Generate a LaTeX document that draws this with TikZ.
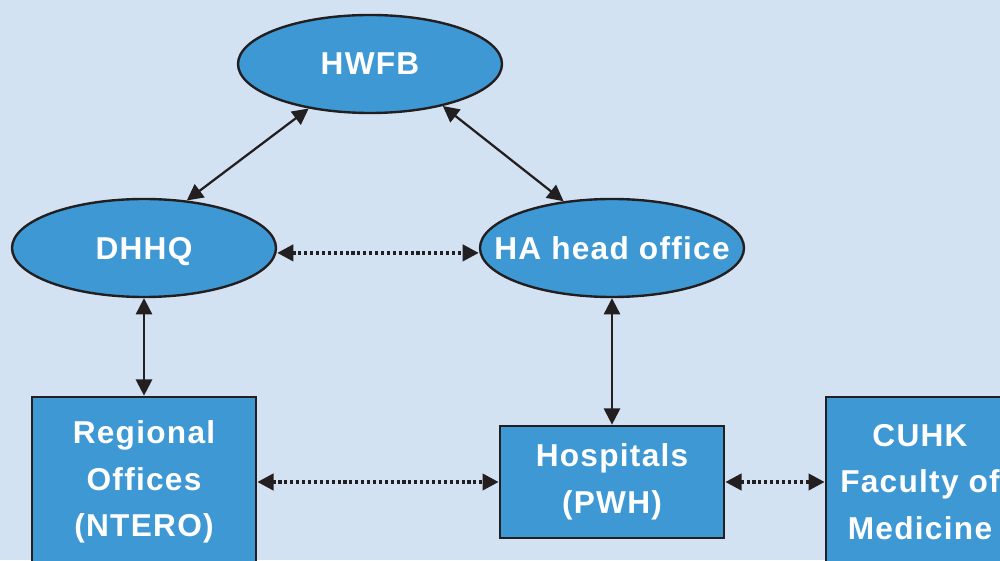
\documentclass[tikz,border=0pt]{standalone}
\usepackage{fontspec}
\setmainfont{Liberation Sans}[LetterSpace=4]
\usetikzlibrary{shapes.geometric, arrows.meta}
\definecolor{bgblue}{RGB}{211,226,242}
\definecolor{nodeblue}{RGB}{61,152,212}
\definecolor{edgeblack}{RGB}{35,31,32}
\tikzstyle{office} = [ellipse, minimum width=6.6cm, minimum height=2.45cm, inner sep=0pt, text depth=0pt, text centered, draw=edgeblack, line width=1.7pt, fill=nodeblue, text=white, font=\bfseries\fontsize{22.5}{33}\selectfont]
\tikzstyle{unit} = [rectangle, minimum width=5.6cm, minimum height=4.25cm, align=center, draw=edgeblack, line width=1.9pt, fill=nodeblue, text=white, font=\bfseries\fontsize{22.5}{33}\selectfont]
\tikzstyle{link} = [line width=1.6pt, draw=edgeblack, {Triangle[length=11.5pt,width=11.5pt]}-{Triangle[length=11.5pt,width=11.5pt]}]
\tikzstyle{dotlink} = [link, line width=2.6pt, dash pattern=on 2.2pt off 2pt]

\begin{document}
\begin{tikzpicture}[node distance=4.6cm]
        % Background
        \fill [bgblue] (0,0) rectangle (25,14);
        \useasboundingbox (0,0) rectangle (25,14);

        % Nodes
        \node (hwfb) [office] at (9.25,12.4) {\makebox[0pt]{HWFB}};
        \node (dhhq) [office, below of=hwfb, xshift=-5.65cm] {\makebox[0pt]{DHHQ}};
        \node (haoffice) [office, right of=dhhq, xshift=7.1cm] {\makebox[0pt]{HA head office}};
        \node (regional) [unit, below of=dhhq, yshift=-1.25cm] {Regional\\Offices\\(NTERO)};
        \node (hospitals) [unit, below of=haoffice, yshift=-1.25cm, minimum height=2.8cm] {Hospitals\\(PWH)};
        \node (cuhk) [unit, right of=hospitals, xshift=3.1cm, minimum width=4.7cm] {CUHK\\Faculty of\\Medicine};

        % Arrows
        \draw [link] (hwfb.216) -- (dhhq.48);
        \draw [link] (hwfb.330) -- (haoffice.136);
        \draw [dotlink] ([yshift=-3.5pt]dhhq.east) -- ([yshift=-3.5pt]haoffice.west);
        \draw [link] (dhhq.south) -- (regional.north);
        \draw [link] (haoffice.south) -- (hospitals.north);
        \draw [dotlink] (regional.east) -- (hospitals.west);
        \draw [dotlink] (hospitals.east) -- (cuhk.west);
\end{tikzpicture}
\end{document}
